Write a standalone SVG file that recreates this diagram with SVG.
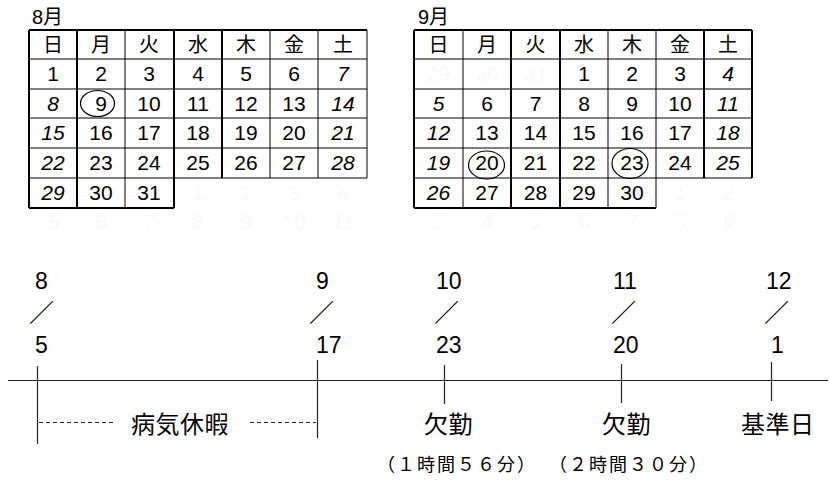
<svg xmlns="http://www.w3.org/2000/svg" width="830" height="480" viewBox="0 0 830 480">
<style>
.t{font-family:"Liberation Sans","Noto Sans CJK JP",sans-serif;fill:#000}
.j{font-family:"Noto Sans CJK JP",sans-serif;fill:#000}
.c{font-size:21px;text-anchor:middle}
.h{font-size:20px;text-anchor:middle}
.i{font-style:italic}
.f{fill:#f9f9f9}
.thk{stroke:#000;stroke-width:2;fill:none}
.thn{stroke:#000;stroke-width:1;fill:none}
.ln{stroke:#222;stroke-width:1.2;fill:none}
.ds{stroke:#222;stroke-width:1;stroke-dasharray:4 3;fill:none}
.el{stroke:#000;stroke-width:1.2;fill:none}
.m{font-size:23px}
.sl{font-size:25px}
.lb{font-size:24px;letter-spacing:0.5px}
.sm{font-size:18px;letter-spacing:2px}
</style>
<g id="cal-aug">
<text class="t" x="32" y="24" font-size="20">8月</text>
<path class="thn" d="M29 59H367M29 89H367M29 118H367M29 148H367M29 178H367M125 30V208M270 30V178M318 30V178M367 30V178"/>
<path class="thk" d="M29 30H367M29 208H174M29 30V208M77 30V208M174 30V208M222 30V178"/>
<g class="j h">
<text x="53" y="52">日</text><text x="101" y="52">月</text><text x="149" y="52">火</text><text x="198" y="52">水</text><text x="246" y="52">木</text><text x="294" y="52">金</text><text x="343" y="52">土</text>
</g>
<g class="t c">
<text x="53" y="81">1</text><text x="101" y="81">2</text><text x="149" y="81">3</text><text x="198" y="81">4</text><text x="246" y="81">5</text><text x="294" y="81">6</text><text class="i" x="343" y="81">7</text>
<text class="i" x="53" y="111">8</text><text x="101" y="111">9</text><text x="149" y="111">10</text><text x="198" y="111">11</text><text x="246" y="111">12</text><text x="294" y="111">13</text><text class="i" x="343" y="111">14</text>
<text class="i" x="53" y="140">15</text><text x="101" y="140">16</text><text x="149" y="140">17</text><text x="198" y="140">18</text><text x="246" y="140">19</text><text x="294" y="140">20</text><text class="i" x="343" y="140">21</text>
<text class="i" x="53" y="170">22</text><text x="101" y="170">23</text><text x="149" y="170">24</text><text x="198" y="170">25</text><text x="246" y="170">26</text><text x="294" y="170">27</text><text class="i" x="343" y="170">28</text>
<text class="i" x="53" y="200">29</text><text x="101" y="200">30</text><text x="149" y="200">31</text>
<text class="f" x="198" y="200">1</text><text class="f" x="246" y="200">2</text><text class="f" x="294" y="200">3</text><text class="f i" x="343" y="200">4</text>
<text class="f i" x="53" y="229">5</text><text class="f" x="101" y="229">6</text><text class="f" x="149" y="229">7</text><text class="f" x="198" y="229">8</text><text class="f" x="246" y="229">9</text><text class="f" x="294" y="229">10</text><text class="f i" x="343" y="229">11</text>
</g>
<ellipse class="el" cx="97.5" cy="103.5" rx="17" ry="13"/>
</g>
<g id="cal-sep">
<text class="t" x="418" y="24" font-size="20">9月</text>
<path class="thn" d="M414 59H752M414 89H752M414 118H752M414 148H752M414 178H752M463 30V208M608 30V208M656 30V208"/>
<path class="thk" d="M414 30H752M414 208H656M414 30V208M511 30V208M560 30V208M704 30V178M752 30V178"/>
<g class="j h">
<text x="438.5" y="52">日</text><text x="487" y="52">月</text><text x="535.5" y="52">火</text><text x="584" y="52">水</text><text x="632" y="52">木</text><text x="680" y="52">金</text><text x="728" y="52">土</text>
</g>
<g class="t c">
<text class="f" x="438.5" y="81">29</text><text class="f" x="487" y="81">30</text><text class="f" x="535.5" y="81">31</text><text x="584" y="81">1</text><text x="632" y="81">2</text><text x="680" y="81">3</text><text class="i" x="728" y="81">4</text>
<text class="i" x="438.5" y="111">5</text><text x="487" y="111">6</text><text x="535.5" y="111">7</text><text x="584" y="111">8</text><text x="632" y="111">9</text><text x="680" y="111">10</text><text class="i" x="728" y="111">11</text>
<text class="i" x="438.5" y="140">12</text><text x="487" y="140">13</text><text x="535.5" y="140">14</text><text x="584" y="140">15</text><text x="632" y="140">16</text><text x="680" y="140">17</text><text class="i" x="728" y="140">18</text>
<text class="i" x="438.5" y="170">19</text><text x="487" y="170">20</text><text x="535.5" y="170">21</text><text x="584" y="170">22</text><text x="632" y="170">23</text><text x="680" y="170">24</text><text class="i" x="728" y="170">25</text>
<text class="i" x="438.5" y="200">26</text><text x="487" y="200">27</text><text x="535.5" y="200">28</text><text x="584" y="200">29</text><text x="632" y="200">30</text><text class="f" x="680" y="200">1</text><text class="f i" x="728" y="200">2</text>
<text class="f i" x="438.5" y="229">3</text><text class="f" x="487" y="229">4</text><text class="f" x="535.5" y="229">5</text><text class="f" x="584" y="229">6</text><text class="f i" x="632" y="229">7</text><text class="f" x="680" y="229">8</text><text class="f i" x="728" y="229">9</text>
</g>
<ellipse class="el" cx="486.5" cy="165" rx="18" ry="14"/>
<ellipse class="el" cx="630" cy="163.5" rx="18" ry="15"/>
</g>
<g id="connectors">
<path class="ln" d="M8 380.5H828"/>
<path class="ln" d="M37.5 366V444M317.5 360V438M444.5 365V404M621.5 364V403M771.5 362V401"/>
<path class="ds" d="M39 422.5H116M250 422.5H316"/>
</g>
<g id="d-0805">
<text class="t m" x="35" y="289">8</text>
<text class="j sl" x="29" y="322">／</text>
<text class="t m" x="35" y="353">5</text>
<text class="j lb" x="131" y="433">病気休暇</text>
</g>
<g id="d-0917">
<text class="t m" x="316" y="289">9</text>
<text class="j sl" x="309" y="322">／</text>
<text class="t m" x="316" y="353">17</text>
</g>
<g id="d-1023">
<text class="t m" x="436" y="289">10</text>
<text class="j sl" x="434" y="322">／</text>
<text class="t m" x="436" y="353">23</text>
<text class="j lb" x="424" y="433">欠勤</text>
<text class="j sm" x="377" y="471">（１時間５６分）</text>
</g>
<g id="d-1120">
<text class="t m" x="613" y="289">11</text>
<text class="j sl" x="611" y="322">／</text>
<text class="t m" x="613" y="353">20</text>
<text class="j lb" x="602" y="433">欠勤</text>
<text class="j sm" x="549" y="471">（２時間３０分）</text>
</g>
<g id="d-1201">
<text class="t m" x="766" y="289">12</text>
<text class="j sl" x="764" y="322">／</text>
<text class="t m" x="771" y="353">1</text>
<text class="j lb" x="741" y="433">基準日</text>
</g>
</svg>
